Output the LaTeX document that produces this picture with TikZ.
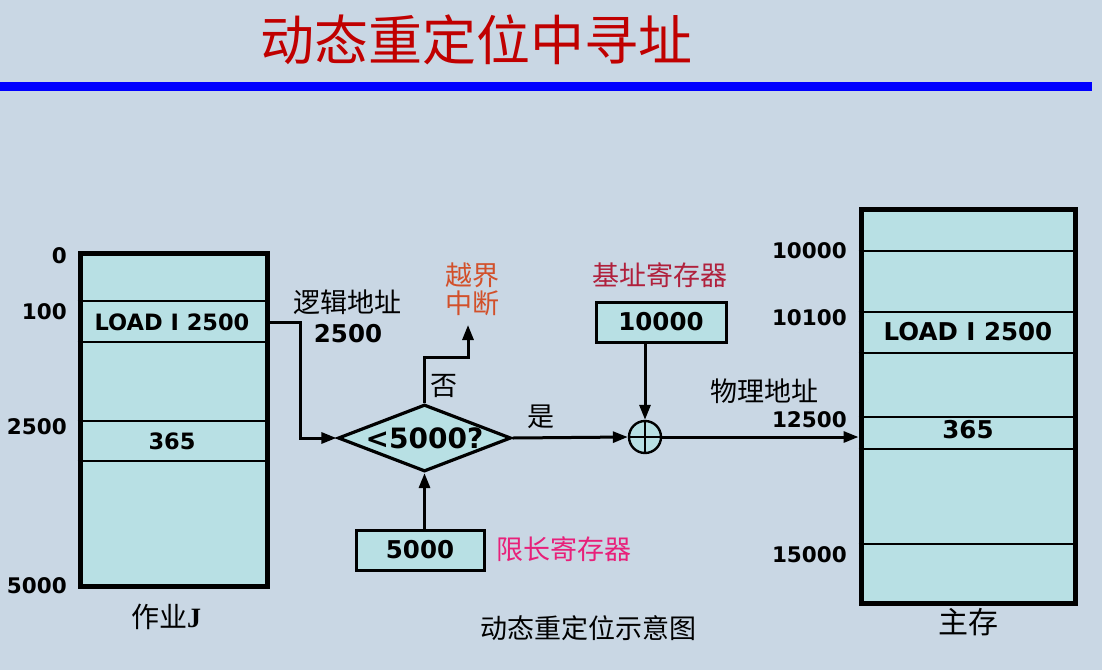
\documentclass[tikz,border=0pt]{standalone}
\usepackage{fontspec}
\setmainfont{DejaVu Sans}
\newfontfamily\cjk{Noto Sans CJK SC}
\newfontfamily\serifb{Liberation Serif}
\usetikzlibrary{shapes.geometric,arrows.meta}
\definecolor{bg}{HTML}{C9D7E4}
\definecolor{cellfill}{HTML}{B8E0E4}
\definecolor{titlered}{HTML}{C00000}
\definecolor{irqcol}{HTML}{D2502A}
\definecolor{basecol}{HTML}{B0203C}
\definecolor{limcol}{HTML}{E8207A}
\definecolor{rulecol}{HTML}{0000FF}
\tikzset{
  arr/.style={draw, line width=3pt, -{Triangle[length=15pt,width=11pt]}},
  membox/.style={draw, line width=5pt, fill=cellfill, inner sep=0pt},
  cellline/.style={line width=2.4pt},
  reg/.style={draw, line width=3pt, fill=cellfill, inner sep=0pt,
    minimum height=40pt, font=\bfseries\fontsize{24.5}{28}\selectfont},
  num/.style={inner sep=0pt, font=\bfseries\fontsize{21.5}{25}\selectfont},
  bignum/.style={inner sep=0pt, font=\bfseries\fontsize{24.5}{28}\selectfont},
  cn/.style={inner sep=0pt, font=\cjk\fontsize{27}{30}\selectfont},
}
\begin{document}
\begin{tikzpicture}[x=1pt,y=-1pt]
  \fill[bg] (0,0) rectangle (1102,670);
  \useasboundingbox (0,0) rectangle (1102,670);

  % heading and rule
  \node[inner sep=0pt, text=titlered, font=\cjk\fontsize{54}{60}\selectfont] (title) at (476,40) {动态重定位中寻址};
  \fill[rulecol] (0,82) rectangle (1092,91);

  % job address space
  \node[membox, minimum width=187pt, minimum height=333pt] (job) at (173.5,419.5) {};
  \foreach \yy in {301,342,421,461}
    \draw[cellline] (job.west |- 0,\yy) -- (job.east |- 0,\yy);
  \node[num, font=\bfseries\fontsize{22.5}{26}\selectfont] (jload) at (172,322) {LOAD I 2500};
  \node[num, font=\bfseries\fontsize{22.5}{26}\selectfont] (j365) at (172,441) {365};
  \node[num, anchor=east] (ja0) at (67,256) {0};
  \node[num, anchor=east] (ja100) at (67,312) {100};
  \node[num, anchor=east] (ja2500) at (67,427) {2500};
  \node[num, anchor=east] (ja5000) at (67,586) {5000};
  \node[cn, font=\cjk\fontsize{28}{32}\selectfont] (jobname) at (166,617) {作业{\serifb\bfseries J}};

  % main memory
  \node[membox, minimum width=214pt, minimum height=394pt] (mem) at (968,406) {};
  \foreach \yy in {251,312,353,417,449,544}
    \draw[cellline] (mem.west |- 0,\yy) -- (mem.east |- 0,\yy);
  \node[bignum] (mload) at (968,332) {LOAD I 2500};
  \node[bignum] (m365) at (968,430) {365};
  \node[num, anchor=east] (ma10000) at (847,251) {10000};
  \node[num, anchor=east] (ma10100) at (847,318) {10100};
  \node[num, anchor=east] (ma12500) at (847,420) {12500};
  \node[num, anchor=east] (ma15000) at (847,555) {15000};
  \node[cn, font=\cjk\fontsize{30}{34}\selectfont] (memname) at (968,622) {主存};

  % limit check
  \node[diamond, draw, line width=3.2pt, fill=cellfill, inner sep=0pt, aspect=2.58,
        minimum width=173pt, minimum height=67pt] (cmp) at (424.5,438) {};
  \node[num, font=\bfseries\fontsize{28}{32}\selectfont] (cmptxt) at (cmp) {<5000?};

  % logical address label
  \node[cn] (logic) at (347,302) {逻辑地址};
  \node[bignum] (logicval) at (348,334) {2500};

  % registers
  \node[reg, minimum width=130pt] (base) at (661,322) {10000};
  \node[cn, text=basecol] (basename) at (660,275) {基址寄存器};
  \node[reg, minimum width=128pt] (limit) at (420,550) {5000};
  \node[cn, text=limcol, anchor=west] (limname) at (496,549) {限长寄存器};

  % adder
  \node[circle, draw, line width=2.4pt, fill=cellfill, minimum size=32pt, inner sep=0pt] (add) at (645,437) {};
  \draw[line width=2.4pt] (add.north) -- (add.south) (add.west) -- (add.east);

  % out-of-range interrupt
  \node[cn, text=irqcol, align=center, font=\cjk\fontsize{27}{28}\selectfont] (irq) at (472,289) {越界\\中断};
  \coordinate (irqbend) at (468,357);
  \coordinate (irqend) at (468,325);
  \node[cn] (no) at (444,386) {否};
  \node[cn] (yes) at (541,417) {是};
  \node[cn] (phys) at (764,391) {物理地址};

  % connectors
  \draw[arr] (job.east |- jload) -- ++(31,0) |- (cmp.west);
  \draw[arr] (cmp.north) |- (irqbend) -- (irqend);
  \draw[arr] (limit.north -| cmp.south) -- (cmp.south);
  \draw[arr] (cmp.east) -- (add.west);
  \draw[arr] (base.south -| add.north) -- (add.north);
  \draw[arr] (add.east) -- (add.east -| mem.west);

  % caption
  \node[cn] (caption) at (588,628) {动态重定位示意图};
\end{tikzpicture}
\end{document}
